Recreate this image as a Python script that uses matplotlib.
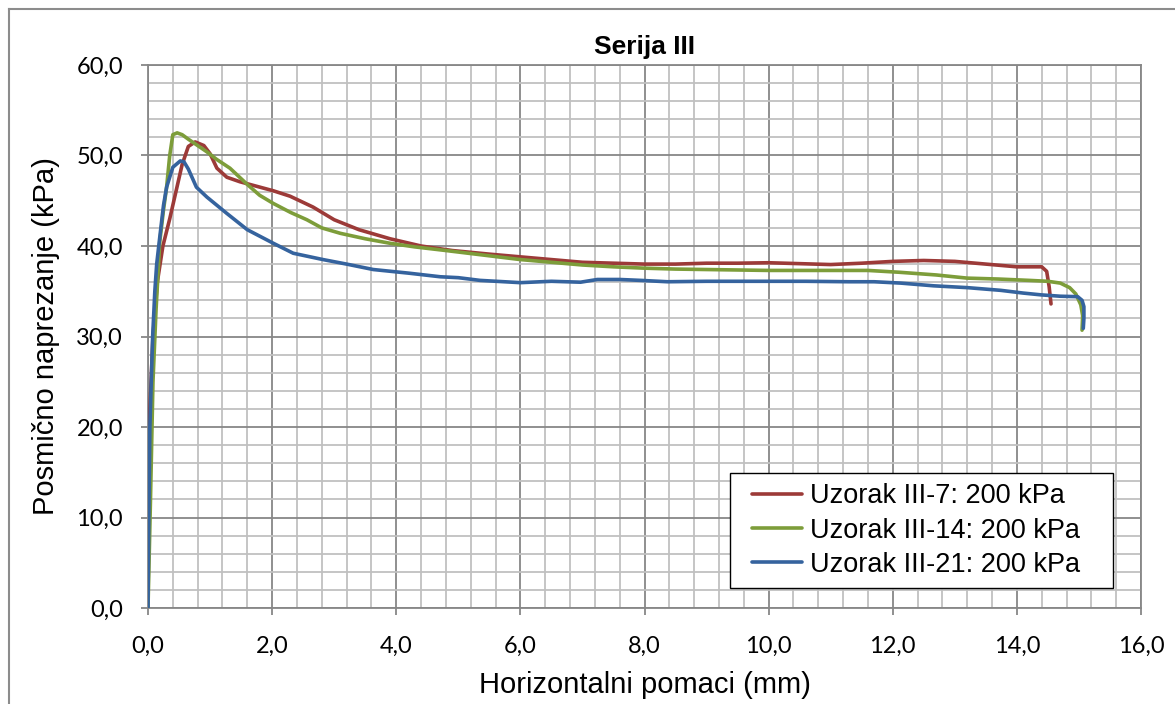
import matplotlib
matplotlib.use("Agg")
import matplotlib.pyplot as plt
from matplotlib.ticker import MultipleLocator, FuncFormatter
from matplotlib.lines import Line2D
from matplotlib.patches import Rectangle

# ---- data ----
title = "Serija III"
xlabel = "Horizontalni pomaci (mm)"
ylabel = "Posmično naprezanje (kPa)"
series_names = ["Uzorak III-7: 200 kPa", "Uzorak III-14: 200 kPa", "Uzorak III-21: 200 kPa"]

red_x = [0, 0.01, 0.03, 0.08, 0.15, 0.24, 0.35, 0.45, 0.55, 0.65, 0.76, 0.9, 1.0, 1.11, 1.27,
         1.48, 1.75, 2.02, 2.29, 2.66, 3.0, 3.4, 3.9, 4.4, 4.9, 5.5, 6.0, 6.5, 7.0, 7.5, 8.0,
         8.5, 9.0, 9.5, 10.0, 10.5, 11.0, 11.5, 12.0, 12.5, 13.0, 13.5, 14.0, 14.25, 14.4,
         14.48, 14.52, 14.55]
red_y = [0, 10, 22, 30, 36, 40, 43, 46, 49, 51, 51.5, 51.1, 50.2, 48.6, 47.6,
         47.1, 46.6, 46.1, 45.5, 44.3, 42.9, 41.8, 40.8, 40.0, 39.5, 39.1, 38.8, 38.5, 38.2, 38.1, 38.0,
         38.0, 38.1, 38.1, 38.15, 38.05, 37.95, 38.1, 38.3, 38.4, 38.3, 38.0, 37.7, 37.7, 37.7,
         37.2, 35.5, 33.6]

green_x = [0, 0.04, 0.08, 0.13, 0.19, 0.25, 0.3, 0.35, 0.4, 0.47, 0.55, 0.65, 0.8, 0.95, 1.1,
           1.32, 1.6, 1.8, 2.02, 2.3, 2.56, 2.8, 3.1, 3.5, 3.9, 4.3, 4.8, 5.4, 6.0, 6.5, 7.0,
           7.5, 8.0, 8.5, 9.0, 9.5, 10.0, 10.5, 11.0, 11.6, 12.1, 12.7, 13.2, 13.7, 14.2, 14.5,
           14.7, 14.85, 14.95, 15.03, 15.06, 15.05]
green_y = [0, 12, 25, 33, 40.5, 44, 46.5, 50, 52.3, 52.5, 52.3, 51.8, 51.1, 50.4, 49.6,
           48.6, 46.8, 45.6, 44.7, 43.7, 42.9, 42.0, 41.4, 40.8, 40.3, 39.9, 39.5, 39.0, 38.5, 38.2, 37.9,
           37.7, 37.55, 37.45, 37.4, 37.35, 37.3, 37.3, 37.3, 37.3, 37.1, 36.8, 36.45, 36.35, 36.2, 36.1,
           35.9, 35.4, 34.7, 33.5, 32.3, 30.7]

blue_x = [0, 0.01, 0.03, 0.075, 0.11, 0.14, 0.19, 0.25, 0.3, 0.4, 0.52, 0.58, 0.65, 0.78, 0.95,
          1.27, 1.6, 2.02, 2.34, 2.82, 3.2, 3.63, 4.2, 4.71, 5.0, 5.35, 6.0, 6.5, 6.97, 7.24, 7.6,
          7.94, 8.37, 9.0, 9.98, 10.6, 11.3, 11.7, 12.13, 12.66, 13.2, 13.74, 14.1, 14.39, 14.7,
          14.98, 15.05, 15.08, 15.08, 15.07]
blue_y = [0, 8, 20, 30, 35, 38, 41, 44.5, 46.5, 48.7, 49.4, 49.3, 48.5, 46.5, 45.4,
          43.6, 41.8, 40.3, 39.2, 38.5, 38.0, 37.4, 37.0, 36.6, 36.5, 36.2, 35.95, 36.1, 36.0, 36.3, 36.3,
          36.2, 36.05, 36.1, 36.1, 36.1, 36.05, 36.05, 35.9, 35.6, 35.4, 35.1, 34.8, 34.6, 34.45,
          34.4, 34.0, 33.3, 32.0, 30.9]

colors = ["#9C3A38", "#7D9D3A", "#35639E"]

# ---- figure ----
W, H = 1175, 704
fig = plt.figure(figsize=(W/100, H/100), dpi=100)
ax = fig.add_axes([148/W, 96/H, (1141-148)/W, (608-65)/H])

# figure border (left & top only visible)
fig.add_artist(Line2D([9/W, 9/W], [0, 1 - 9/H], transform=fig.transFigure,
                      color="#8C8C8C", lw=1.5))
fig.add_artist(Line2D([9/W, 1], [1 - 9/H, 1 - 9/H], transform=fig.transFigure,
                      color="#8C8C8C", lw=1.5))

for xs, ys, c, name in zip([red_x, green_x, blue_x], [red_y, green_y, blue_y], colors, series_names):
    ax.plot(xs, ys, color=c, lw=2.6, label=name, solid_joinstyle="round", solid_capstyle="round", zorder=3)

ax.set_xlim(0, 16)
ax.set_ylim(0, 60)
ax.xaxis.set_major_locator(MultipleLocator(2))
ax.xaxis.set_minor_locator(MultipleLocator(0.4))
ax.yaxis.set_major_locator(MultipleLocator(10))
ax.yaxis.set_minor_locator(MultipleLocator(2))
fmt = FuncFormatter(lambda v, p: f"{v:.1f}".replace(".", ","))
ax.xaxis.set_major_formatter(fmt)
ax.yaxis.set_major_formatter(fmt)

ax.grid(which="minor", color="#C0C0C0", lw=1.3, zorder=0)
ax.grid(which="major", color="#878787", lw=1.3, zorder=1)
ax.set_axisbelow(True)

for s in ax.spines.values():
    s.set_color("#878787")
    s.set_linewidth(1.3)

ax.tick_params(which="major", direction="out", length=5, width=1.3, color="#878787",
               labelsize=17)
ax.tick_params(axis="y", pad=13)
ax.tick_params(axis="x", pad=15)
ax.tick_params(which="minor", length=0)
for lab in ax.get_xticklabels() + ax.get_yticklabels():
    lab.set_family("Lato")

ax.set_title(title, fontsize=19, fontweight="bold", family="Liberation Sans", pad=8)
ax.set_xlabel(xlabel, fontsize=21, family="Liberation Sans", labelpad=10)
ax.set_ylabel(ylabel, fontsize=21, family="Liberation Sans", labelpad=12)

# legend box drawn separately (inside the axes so it sits under the legend entries)
box = Rectangle((730/W, (H-588)/H), (1113-730)/W, (588-473)/H, transform=fig.transFigure,
                facecolor="white", edgecolor="black", lw=1.0, zorder=4, clip_on=False)
ax.add_artist(box)
leg = ax.legend(loc="center", bbox_to_anchor=(916/W, (H-530.5)/H),
                bbox_transform=fig.transFigure, prop={"family": "Liberation Sans", "size": 19.5},
                frameon=False, handlelength=1.85, handletextpad=0.28,
                borderpad=0.0, labelspacing=0.3, borderaxespad=0)
leg.set_zorder(5)

fig.savefig("out.png", dpi=100)
